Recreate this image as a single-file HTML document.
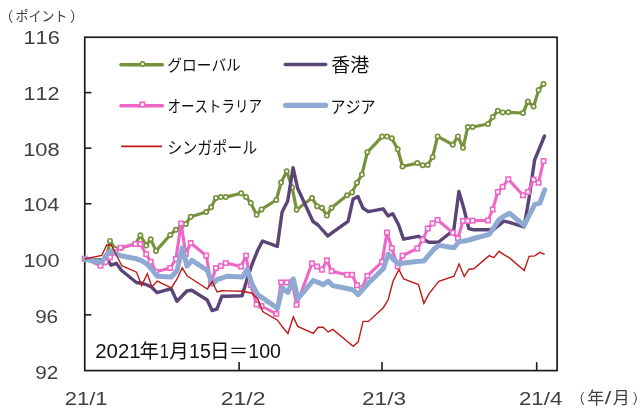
<!DOCTYPE html>
<html lang="ja"><head><meta charset="utf-8"><title>株価指数の推移</title>
<style>html,body{margin:0;padding:0;background:#fff}body{width:640px;height:415px;overflow:hidden;font-family:"Liberation Sans","Noto Sans CJK JP",sans-serif}svg{display:block;will-change:transform}text{font-family:"Liberation Sans","Noto Sans CJK JP",sans-serif;font-kerning:none}</style>
</head><body>
<svg width="640" height="415" viewBox="0 0 640 415">
<rect width="640" height="415" fill="#fff"/>
<g stroke="#1c1c1c" stroke-width="1.7" fill="none">
<rect x="84.75" y="37.25" width="472.35" height="333.35"/>
<line x1="84.75" y1="92.61" x2="91.4" y2="92.61" stroke-width="1.6"/>
<line x1="84.75" y1="148.17" x2="91.4" y2="148.17" stroke-width="1.6"/>
<line x1="84.75" y1="203.73" x2="91.4" y2="203.73" stroke-width="1.6"/>
<line x1="84.75" y1="259.29" x2="91.4" y2="259.29" stroke-width="1.6"/>
<line x1="84.75" y1="314.85" x2="91.4" y2="314.85" stroke-width="1.6"/>
<line x1="239.1" y1="362.1" x2="239.1" y2="370.6" stroke-width="1.6"/>
<line x1="382.0" y1="362.1" x2="382.0" y2="370.6" stroke-width="1.6"/>
<line x1="536.7" y1="362.1" x2="536.7" y2="370.6" stroke-width="1.6"/>
</g>
<g fill="none" stroke-linejoin="round" stroke-linecap="round">
<polyline points="84.7,259.0 100.5,261.0 105.5,262.5 110.0,240.9 115.3,249.0 120.6,248.0 135.4,244.0 140.4,235.2 146.2,245.6 150.7,239.2 156.0,250.9 170.2,235.0 175.9,229.7 181.1,226.5 185.8,224.0 190.7,216.7 206.2,212.0 211.1,207.3 215.9,197.9 220.8,197.1 225.7,197.1 241.1,193.2 246.1,197.1 250.8,203.1 256.6,214.7 261.5,209.4 276.3,200.0 281.1,182.5 286.7,171.2 292.1,187.4 296.6,209.8 312.0,198.1 317.1,206.2 321.9,207.8 326.9,215.6 331.6,207.8 347.1,195.3 352.1,192.4 357.0,182.7 361.9,174.6 367.3,152.3 382.1,136.6 387.0,136.6 391.8,138.2 397.7,149.2 402.5,166.5 417.3,163.1 422.7,165.2 427.7,165.0 432.6,157.0 437.6,136.4 452.8,144.7 457.9,136.4 463.0,147.8 467.8,127.0 472.6,127.0 488.0,124.0 492.7,117.1 497.8,110.7 502.7,112.4 508.3,112.3 523.0,113.0 527.9,101.5 533.6,106.5 538.6,90.1 543.5,84.0" stroke="#76923c" stroke-width="3.2"/>
</g>
<g fill="#fff" stroke="#76923c" stroke-width="1.7">
<circle cx="84.7" cy="259.0" r="2.15"/>
<circle cx="100.5" cy="261.0" r="2.15"/>
<circle cx="105.5" cy="262.5" r="2.15"/>
<circle cx="110.0" cy="240.9" r="2.15"/>
<circle cx="115.3" cy="249.0" r="2.15"/>
<circle cx="120.6" cy="248.0" r="2.15"/>
<circle cx="135.4" cy="244.0" r="2.15"/>
<circle cx="140.4" cy="235.2" r="2.15"/>
<circle cx="146.2" cy="245.6" r="2.15"/>
<circle cx="150.7" cy="239.2" r="2.15"/>
<circle cx="156.0" cy="250.9" r="2.15"/>
<circle cx="170.2" cy="235.0" r="2.15"/>
<circle cx="175.9" cy="229.7" r="2.15"/>
<circle cx="181.1" cy="226.5" r="2.15"/>
<circle cx="185.8" cy="224.0" r="2.15"/>
<circle cx="190.7" cy="216.7" r="2.15"/>
<circle cx="206.2" cy="212.0" r="2.15"/>
<circle cx="211.1" cy="207.3" r="2.15"/>
<circle cx="215.9" cy="197.9" r="2.15"/>
<circle cx="220.8" cy="197.1" r="2.15"/>
<circle cx="225.7" cy="197.1" r="2.15"/>
<circle cx="241.1" cy="193.2" r="2.15"/>
<circle cx="246.1" cy="197.1" r="2.15"/>
<circle cx="250.8" cy="203.1" r="2.15"/>
<circle cx="256.6" cy="214.7" r="2.15"/>
<circle cx="261.5" cy="209.4" r="2.15"/>
<circle cx="276.3" cy="200.0" r="2.15"/>
<circle cx="281.1" cy="182.5" r="2.15"/>
<circle cx="286.7" cy="171.2" r="2.15"/>
<circle cx="292.1" cy="187.4" r="2.15"/>
<circle cx="296.6" cy="209.8" r="2.15"/>
<circle cx="312.0" cy="198.1" r="2.15"/>
<circle cx="317.1" cy="206.2" r="2.15"/>
<circle cx="321.9" cy="207.8" r="2.15"/>
<circle cx="326.9" cy="215.6" r="2.15"/>
<circle cx="331.6" cy="207.8" r="2.15"/>
<circle cx="347.1" cy="195.3" r="2.15"/>
<circle cx="352.1" cy="192.4" r="2.15"/>
<circle cx="357.0" cy="182.7" r="2.15"/>
<circle cx="361.9" cy="174.6" r="2.15"/>
<circle cx="367.3" cy="152.3" r="2.15"/>
<circle cx="382.1" cy="136.6" r="2.15"/>
<circle cx="387.0" cy="136.6" r="2.15"/>
<circle cx="391.8" cy="138.2" r="2.15"/>
<circle cx="397.7" cy="149.2" r="2.15"/>
<circle cx="402.5" cy="166.5" r="2.15"/>
<circle cx="417.3" cy="163.1" r="2.15"/>
<circle cx="422.7" cy="165.2" r="2.15"/>
<circle cx="427.7" cy="165.0" r="2.15"/>
<circle cx="432.6" cy="157.0" r="2.15"/>
<circle cx="437.6" cy="136.4" r="2.15"/>
<circle cx="452.8" cy="144.7" r="2.15"/>
<circle cx="457.9" cy="136.4" r="2.15"/>
<circle cx="463.0" cy="147.8" r="2.15"/>
<circle cx="467.8" cy="127.0" r="2.15"/>
<circle cx="472.6" cy="127.0" r="2.15"/>
<circle cx="488.0" cy="124.0" r="2.15"/>
<circle cx="492.7" cy="117.1" r="2.15"/>
<circle cx="497.8" cy="110.7" r="2.15"/>
<circle cx="502.7" cy="112.4" r="2.15"/>
<circle cx="508.3" cy="112.3" r="2.15"/>
<circle cx="523.0" cy="113.0" r="2.15"/>
<circle cx="527.9" cy="101.5" r="2.15"/>
<circle cx="533.6" cy="106.5" r="2.15"/>
<circle cx="538.6" cy="90.1" r="2.15"/>
<circle cx="543.5" cy="84.0" r="2.15"/>
</g>
<polyline points="84.7,259.0 101.5,260.5 106.5,257.5 111.0,265.2 116.3,263.3 121.6,270.5 136.4,282.5 141.4,283.2 147.2,285.0 151.7,287.3 157.0,292.6 171.2,288.6 176.9,301.2 182.1,296.0 186.8,291.0 191.7,290.2 207.2,300.0 212.1,310.5 216.9,309.1 221.8,296.3 226.7,296.2 242.1,295.8 247.1,279.0 251.8,265.0 257.6,250.5 262.5,241.0 277.3,246.4 282.1,212.0 287.7,201.0 293.1,167.8 297.6,188.2 313.0,221.5 318.1,225.0 322.9,230.5 327.9,236.0 332.6,232.4 348.1,221.3 353.1,199.0 358.0,196.6 362.9,208.0 368.3,211.6 383.1,208.8 388.0,215.9 392.8,213.8 398.7,225.0 403.5,239.2 418.3,236.3 423.7,239.3 428.7,242.2 433.6,242.2 438.6,242.0 453.8,230.0 458.9,191.4 464.0,209.0 468.8,228.5 473.6,229.8 489.0,229.7 493.7,229.3 498.8,225.4 503.7,221.2 509.3,222.3 524.0,227.0 528.9,199.0 534.6,160.0 539.6,148.0 544.5,136.0" fill="none" stroke="#5a4577" stroke-width="3.4" stroke-linejoin="round" stroke-linecap="round"/>
<polyline points="84.7,258.7 100.5,265.7 105.5,262.0 110.0,257.3 115.3,252.0 120.6,247.7 135.4,244.0 140.4,244.0 146.2,254.2 150.7,261.8 156.0,271.8 170.2,268.0 175.9,259.0 181.1,223.5 185.8,254.0 190.7,243.0 206.2,255.6 211.1,283.0 215.9,268.1 220.8,266.1 225.7,263.1 241.1,266.5 246.1,255.6 250.8,285.0 256.6,304.5 261.5,306.0 276.3,313.9 281.1,282.4 286.7,282.5 292.1,281.8 296.6,304.8 312.0,263.4 317.1,266.5 321.9,269.7 326.9,260.3 331.6,271.2 347.1,274.8 352.1,274.8 357.0,285.3 361.9,288.3 367.3,275.9 382.1,261.8 387.0,232.5 391.8,248.2 397.7,266.5 402.5,255.6 417.3,248.5 422.7,239.9 427.7,228.5 432.6,223.4 437.6,220.0 452.8,232.7 457.9,238.3 463.0,220.9 467.8,220.9 472.6,220.6 488.0,220.5 492.7,209.5 497.8,192.0 502.7,186.8 508.3,179.2 523.0,195.3 527.9,192.1 533.6,179.6 538.6,182.7 543.5,161.0" fill="none" stroke="#ee66c8" stroke-width="3.1" stroke-linejoin="round" stroke-linecap="round"/>
<g fill="#fff" stroke="#ee66c8" stroke-width="1.6">
<rect x="82.5" y="256.5" width="4.4" height="4.4"/>
<rect x="98.3" y="263.5" width="4.4" height="4.4"/>
<rect x="103.3" y="259.8" width="4.4" height="4.4"/>
<rect x="107.8" y="255.1" width="4.4" height="4.4"/>
<rect x="113.1" y="249.8" width="4.4" height="4.4"/>
<rect x="118.4" y="245.5" width="4.4" height="4.4"/>
<rect x="133.2" y="241.8" width="4.4" height="4.4"/>
<rect x="138.2" y="241.8" width="4.4" height="4.4"/>
<rect x="144.0" y="252.0" width="4.4" height="4.4"/>
<rect x="148.5" y="259.6" width="4.4" height="4.4"/>
<rect x="153.8" y="269.6" width="4.4" height="4.4"/>
<rect x="168.0" y="265.8" width="4.4" height="4.4"/>
<rect x="173.7" y="256.8" width="4.4" height="4.4"/>
<rect x="178.9" y="221.3" width="4.4" height="4.4"/>
<rect x="183.6" y="251.8" width="4.4" height="4.4"/>
<rect x="188.5" y="240.8" width="4.4" height="4.4"/>
<rect x="204.0" y="253.4" width="4.4" height="4.4"/>
<rect x="208.9" y="280.8" width="4.4" height="4.4"/>
<rect x="213.7" y="265.9" width="4.4" height="4.4"/>
<rect x="218.6" y="263.9" width="4.4" height="4.4"/>
<rect x="223.5" y="260.9" width="4.4" height="4.4"/>
<rect x="238.9" y="264.3" width="4.4" height="4.4"/>
<rect x="243.9" y="253.4" width="4.4" height="4.4"/>
<rect x="248.6" y="282.8" width="4.4" height="4.4"/>
<rect x="254.4" y="302.3" width="4.4" height="4.4"/>
<rect x="259.3" y="303.8" width="4.4" height="4.4"/>
<rect x="274.1" y="311.7" width="4.4" height="4.4"/>
<rect x="278.9" y="280.2" width="4.4" height="4.4"/>
<rect x="284.5" y="280.3" width="4.4" height="4.4"/>
<rect x="289.9" y="279.6" width="4.4" height="4.4"/>
<rect x="294.4" y="302.6" width="4.4" height="4.4"/>
<rect x="309.8" y="261.2" width="4.4" height="4.4"/>
<rect x="314.9" y="264.3" width="4.4" height="4.4"/>
<rect x="319.7" y="267.5" width="4.4" height="4.4"/>
<rect x="324.7" y="258.1" width="4.4" height="4.4"/>
<rect x="329.4" y="269.0" width="4.4" height="4.4"/>
<rect x="344.9" y="272.6" width="4.4" height="4.4"/>
<rect x="349.9" y="272.6" width="4.4" height="4.4"/>
<rect x="354.8" y="283.1" width="4.4" height="4.4"/>
<rect x="359.7" y="286.1" width="4.4" height="4.4"/>
<rect x="365.1" y="273.7" width="4.4" height="4.4"/>
<rect x="379.9" y="259.6" width="4.4" height="4.4"/>
<rect x="384.8" y="230.3" width="4.4" height="4.4"/>
<rect x="389.6" y="246.0" width="4.4" height="4.4"/>
<rect x="395.5" y="264.3" width="4.4" height="4.4"/>
<rect x="400.3" y="253.4" width="4.4" height="4.4"/>
<rect x="415.1" y="246.3" width="4.4" height="4.4"/>
<rect x="420.5" y="237.7" width="4.4" height="4.4"/>
<rect x="425.5" y="226.3" width="4.4" height="4.4"/>
<rect x="430.4" y="221.2" width="4.4" height="4.4"/>
<rect x="435.4" y="217.8" width="4.4" height="4.4"/>
<rect x="450.6" y="230.5" width="4.4" height="4.4"/>
<rect x="455.7" y="236.1" width="4.4" height="4.4"/>
<rect x="460.8" y="218.7" width="4.4" height="4.4"/>
<rect x="465.6" y="218.7" width="4.4" height="4.4"/>
<rect x="470.4" y="218.4" width="4.4" height="4.4"/>
<rect x="485.8" y="218.3" width="4.4" height="4.4"/>
<rect x="490.5" y="207.3" width="4.4" height="4.4"/>
<rect x="495.6" y="189.8" width="4.4" height="4.4"/>
<rect x="500.5" y="184.6" width="4.4" height="4.4"/>
<rect x="506.1" y="177.0" width="4.4" height="4.4"/>
<rect x="520.8" y="193.1" width="4.4" height="4.4"/>
<rect x="525.7" y="189.9" width="4.4" height="4.4"/>
<rect x="531.4" y="177.4" width="4.4" height="4.4"/>
<rect x="536.4" y="180.5" width="4.4" height="4.4"/>
<rect x="541.3" y="158.8" width="4.4" height="4.4"/>
</g>
<polyline points="84.7,259.0 101.7,262.4 106.7,254.5 111.2,250.8 116.5,254.0 121.8,256.0 136.6,258.8 141.6,260.7 147.4,264.3 151.9,269.5 157.2,276.2 171.4,277.0 177.1,270.5 182.3,247.8 187.0,266.0 191.9,260.4 207.4,270.5 212.3,284.4 217.1,279.5 222.0,278.0 226.9,276.3 242.3,277.1 247.3,269.4 252.0,284.0 257.8,295.0 262.7,298.0 277.5,308.4 282.3,288.0 287.9,292.5 293.3,278.8 297.8,298.8 313.2,280.5 318.3,282.3 323.1,284.8 328.1,281.2 332.8,285.6 348.3,288.8 353.3,290.0 358.2,294.6 363.1,289.0 368.5,283.0 383.3,268.8 388.2,254.0 393.0,259.0 398.9,264.2 403.7,263.0 418.5,261.3 423.9,261.0 428.9,255.0 433.8,249.3 438.8,245.4 454.0,247.8 459.1,241.5 464.2,241.0 469.0,240.0 473.8,238.5 489.2,234.4 493.9,227.3 499.0,219.6 503.9,216.3 509.5,213.3 524.2,225.4 529.1,215.5 534.8,204.4 539.8,203.4 544.7,189.8" fill="none" stroke="#8eaad3" stroke-width="5" stroke-linejoin="round" stroke-linecap="round"/>
<polyline points="84.7,259.0 101.7,255.5 106.7,245.0 111.2,245.0 116.5,255.3 121.8,265.7 136.6,272.2 141.6,285.4 147.4,273.7 151.9,287.0 157.2,281.0 171.4,287.8 177.1,279.0 182.3,267.8 187.0,275.8 191.9,279.0 207.4,289.0 212.3,281.5 217.1,292.0 222.0,290.8 226.9,290.9 242.3,291.2 247.3,292.2 252.0,293.2 257.8,299.0 262.7,311.5 277.5,320.2 282.3,326.8 287.9,333.5 293.3,317.0 297.8,326.4 313.2,333.3 318.3,327.3 323.1,327.3 328.1,332.0 332.8,329.4 348.3,342.2 353.3,346.3 358.2,341.8 363.1,321.4 368.5,321.4 383.3,307.7 388.2,299.5 393.0,281.3 398.9,269.6 403.7,279.0 418.5,284.5 423.9,303.3 428.9,293.9 433.8,287.6 438.8,281.3 454.0,276.2 459.1,264.1 464.2,276.5 469.0,269.2 473.8,268.8 489.2,255.6 493.9,257.6 499.0,251.3 503.9,254.6 509.5,257.9 524.2,270.5 529.1,256.3 534.8,255.9 539.8,252.4 544.7,254.3" fill="none" stroke="#bf1a18" stroke-width="1.4" stroke-linejoin="miter"/>
<line x1="120.9" y1="64.7" x2="162.4" y2="64.7" stroke="#76923c" stroke-width="3.4" stroke-linecap="round"/>
<circle cx="142.6" cy="64.0" r="2.15" fill="#fff" stroke="#76923c" stroke-width="1.7"/>
<line x1="120.9" y1="105.8" x2="162.4" y2="105.8" stroke="#ee66c8" stroke-width="3.4" stroke-linecap="round"/>
<rect x="140.2" y="102.3" width="4.4" height="4.4" fill="#fff" stroke="#ee66c8" stroke-width="1.6"/>
<line x1="121.1" y1="146.4" x2="162.0" y2="146.4" stroke="#bf1a18" stroke-width="1.7"/>
<line x1="285.4" y1="64.5" x2="325.6" y2="64.5" stroke="#5a4577" stroke-width="3.6" stroke-linecap="round"/>
<line x1="285.6" y1="105.3" x2="325.6" y2="105.3" stroke="#8eaad3" stroke-width="5.2" stroke-linecap="round"/>
<text x="167.3" y="71.3" font-size="15.5" fill="#111" textLength="73.5" lengthAdjust="spacingAndGlyphs">グローバル</text>
<text x="167.5" y="112" font-size="15.5" fill="#111" textLength="94.5" lengthAdjust="spacingAndGlyphs">オーストラリア</text>
<text x="167.3" y="153.5" font-size="16.5" fill="#111" textLength="90" lengthAdjust="spacingAndGlyphs">シンガポール</text>
<text x="331.3" y="71.5" font-size="18.8" fill="#111" textLength="38" lengthAdjust="spacingAndGlyphs">香港</text>
<text x="330.5" y="112.5" font-size="16.5" fill="#111" textLength="45" lengthAdjust="spacingAndGlyphs">アジア</text>
<text x="13.2" y="20.8" font-size="14" fill="#404040" text-anchor="end">（</text>
<text x="15.6" y="20.8" font-size="14" fill="#404040" textLength="52" lengthAdjust="spacingAndGlyphs">ポイント</text>
<text x="69.9" y="20.8" font-size="14" fill="#404040">）</text>
<text transform="translate(23.44,43.77) scale(1.150,1)" font-size="18.93" fill="#404040">116</text>
<text transform="translate(23.46,99.82) scale(1.141,1)" font-size="18.93" fill="#404040">112</text>
<text transform="translate(23.13,156.22) scale(1.156,1)" font-size="18.93" fill="#404040">108</text>
<text transform="translate(23.15,211.17) scale(1.146,1)" font-size="18.93" fill="#404040">104</text>
<text transform="translate(23.45,266.92) scale(1.146,1)" font-size="18.93" fill="#404040">100</text>
<text transform="translate(35.13,322.52) scale(1.091,1)" font-size="18.93" fill="#404040">96</text>
<text transform="translate(35.13,378.82) scale(1.098,1)" font-size="18.93" fill="#404040">92</text>
<text transform="translate(64.80,404.81) scale(1.150,1)" font-size="19.07" fill="#404040">21/1</text>
<text transform="translate(220.74,404.81) scale(1.205,1)" font-size="19.07" fill="#404040">21/2</text>
<text transform="translate(362.06,404.81) scale(1.184,1)" font-size="19.07" fill="#404040">21/3</text>
<text transform="translate(518.98,404.81) scale(1.169,1)" font-size="19.07" fill="#404040">21/4</text>
<text x="585" y="403.4" font-size="14" fill="#404040" text-anchor="end">（</text>
<text x="587.3" y="403.5" font-size="17" fill="#404040">年</text>
<text x="604.8" y="403.5" font-size="18" fill="#404040" textLength="6.5" lengthAdjust="spacingAndGlyphs">/</text>
<text x="612.7" y="403.5" font-size="17" fill="#404040">月</text>
<text x="632.5" y="403.4" font-size="14" fill="#404040">）</text>
<text transform="translate(95.27,358.31) scale(1.048,1)" font-size="19.49" fill="#111">2021</text>
<text x="139.5" y="358.3" font-size="19.5" fill="#111">年</text>
<text transform="translate(159.86,358.31) scale(0.833,1)" font-size="19.49" fill="#111">1</text>
<text x="169.3" y="358.3" font-size="19.5" fill="#111">月</text>
<text transform="translate(189.01,358.31) scale(1.006,1)" font-size="19.49" fill="#111">15</text>
<text x="210" y="358.3" font-size="19.5" fill="#111">日</text>
<text x="228.8" y="358.3" font-size="19.5" fill="#111">＝</text>
<text transform="translate(248.30,358.31) scale(1.007,1)" font-size="19.49" fill="#111">100</text>
</svg></body></html>
